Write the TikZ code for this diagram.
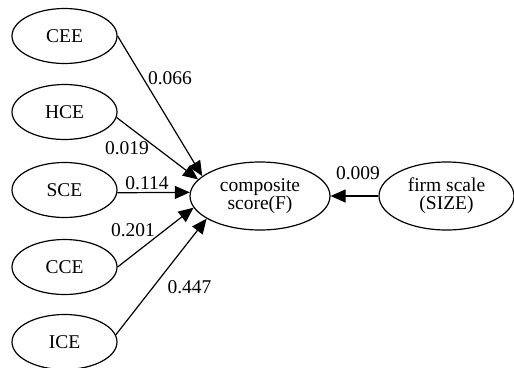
\documentclass[tikz,border=0pt]{standalone}
\usepackage{fontspec}
\setmainfont{Liberation Serif}
\usetikzlibrary{shapes.geometric,arrows.meta}
\tikzset{
  var/.style={draw, ellipse, line width=1.2pt, inner sep=0pt, minimum width=105pt, minimum height=55pt,
    font=\fontsize{19.5}{18}\selectfont, align=center},
  big/.style={var, minimum width=140pt, minimum height=68pt},
  lbl/.style={inner sep=0pt, font=\fontsize{19.5}{18}\selectfont},
  edge/.style={line width=1.2pt, -{Triangle[length=15pt,width=13pt]}}
}
\begin{document}
\begin{tikzpicture}[x=1pt,y=-1pt]
\useasboundingbox (0,0) rectangle (514,367);
\node[var] (CEE) at (64.5,36) {CEE};
\node[var] (HCE) at (64.5,112) {HCE};
\node[var] (SCE) at (64.5,190) {SCE};
\node[var] (CCE) at (64.5,267) {CCE};
\node[var] (ICE) at (64.5,342) {ICE};
\node[big] (comp) at (260,196) {composite\\score(F)};
\node[big, minimum width=135pt] (firm) at (446.5,196) {firm scale\\(SIZE)};

\draw[edge] (CEE.east) -- (comp.161);
\draw[edge] (HCE.-6) -- (comp.165);
\draw[edge] (SCE.-3) -- (comp.177);
\draw[edge] (CCE.east) -- (comp.190);
\draw[edge] (ICE.8) -- (comp.203);
\draw[edge] (firm.west) -- (comp.east);

\node[lbl] (l1) at (170,78) {0.066};
\node[lbl] (l2) at (127,148) {0.019};
\node[lbl] (l3) at (147,183) {0.114};
\node[lbl] (l4) at (133,230) {0.201};
\node[lbl] (l5) at (189.5,287) {0.447};
\node[lbl] (l6) at (358,173) {0.009};
\end{tikzpicture}
\end{document}
